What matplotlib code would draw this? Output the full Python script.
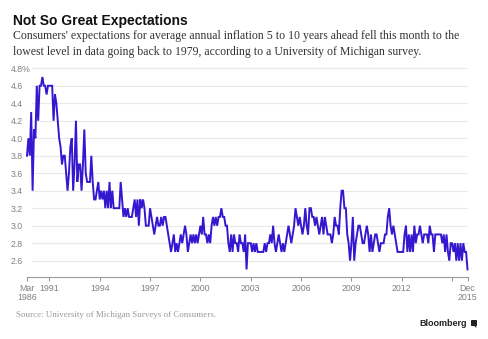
import matplotlib
matplotlib.use("Agg")
import matplotlib.pyplot as plt
import numpy as np
import pandas as pd
from matplotlib.patches import FancyBboxPatch, Polygon

# Survey dates: a few scattered readings before 1990, then monthly from April 1990
sparse_dates = ["1986-03", "1987-02", "1987-08", "1988-02", "1988-08", "1989-02", "1989-08"]
monthly_dates = pd.date_range("1990-04-01", "2015-12-01", freq="MS")
dates = list(pd.to_datetime(sparse_dates)) + list(monthly_dates)

# Median expected inflation 5 to 10 years ahead, percent
expect_1986_1990 = [3.8, 4.0, 3.8, 4.3, 3.4, 4.1, 4.0,
                    4.6, 4.2, 4.6, 4.6, 4.7, 4.6, 4.6, 4.5, 4.6]
expect_1991_1995 = [4.6, 4.6, 4.6, 4.2, 4.5, 4.4, 4.2, 4.0, 3.9, 3.7, 3.8, 3.8,
                    3.6, 3.4, 3.6, 3.9, 4.0, 3.4, 3.7, 4.2, 3.5, 3.7, 3.7, 3.4,
                    3.7, 4.1, 3.6, 3.5, 3.5, 3.5, 3.8, 3.5, 3.3, 3.3, 3.4, 3.5,
                    3.3, 3.4, 3.3, 3.4, 3.2, 3.4, 3.2, 3.5, 3.2, 3.4, 3.2, 3.2,
                    3.2, 3.2, 3.2, 3.5, 3.3, 3.1, 3.2, 3.1, 3.2, 3.1, 3.1, 3.1]
expect_1996_2000 = [3.2, 3.3, 3.1, 3.3, 3.0, 3.3, 3.2, 3.3, 3.2, 3.0, 3.0, 3.0,
                    3.2, 3.1, 3.0, 2.9, 3.0, 3.1, 3.0, 3.0, 3.1, 3.0, 3.1, 3.1,
                    3.0, 2.9, 2.8, 2.7, 2.8, 2.9, 2.7, 2.8, 2.7, 2.8, 2.9, 2.8,
                    2.9, 3.0, 2.9, 2.7, 2.8, 2.9, 2.8, 2.9, 2.8, 2.9, 2.8, 2.9,
                    3.0, 2.9, 3.1, 2.9, 2.9, 2.8, 2.9, 2.8, 3.0, 3.1, 3.0, 3.1]
expect_2001_2005 = [3.0, 3.1, 3.1, 3.2, 3.1, 3.1, 3.0, 3.0, 2.8, 2.7, 2.9, 2.7,
                    2.9, 2.8, 2.8, 2.7, 2.9, 2.8, 2.8, 2.7, 2.9, 2.5, 2.8, 2.8,
                    2.8, 2.7, 2.8, 2.7, 2.8, 2.7, 2.7, 2.7, 2.7, 2.7, 2.8, 2.7,
                    2.8, 2.8, 2.9, 2.8, 3.0, 2.8, 2.7, 2.8, 2.9, 2.8, 2.7, 2.8,
                    2.7, 2.8, 2.9, 3.0, 2.9, 2.8, 2.9, 3.0, 3.2, 3.1, 3.0, 3.1]
expect_2006_2010 = [3.0, 2.9, 3.0, 3.2, 3.0, 2.9, 3.2, 3.2, 3.1, 3.1, 3.0, 3.1,
                    3.0, 2.9, 3.0, 3.1, 2.9, 3.1, 3.0, 2.9, 2.9, 2.9, 2.8, 2.9,
                    3.1, 3.0, 3.0, 2.9, 3.2, 3.4, 3.4, 3.2, 3.2, 2.9, 2.8, 2.6,
                    2.8, 3.1, 2.6, 2.8, 2.9, 3.0, 3.0, 2.9, 2.8, 2.8, 2.9, 3.0,
                    2.9, 2.7, 2.9, 2.7, 2.8, 2.9, 2.9, 2.8, 2.7, 2.8, 2.8, 2.8]
expect_2011_2015 = [2.9, 2.9, 3.1, 3.2, 3.0, 2.9, 3.0, 2.9, 2.8, 2.7, 2.7, 2.7,
                    2.7, 2.7, 2.9, 3.0, 2.7, 2.9, 2.7, 2.9, 2.7, 3.0, 2.8, 2.9,
                    2.9, 3.0, 2.9, 2.8, 2.9, 2.9, 2.9, 2.8, 3.0, 2.9, 2.9, 2.7,
                    2.9, 2.9, 2.9, 2.9, 2.9, 2.8, 2.9, 2.7, 2.9, 2.7, 2.6, 2.8,
                    2.8, 2.7, 2.8, 2.6, 2.8, 2.6, 2.8, 2.6, 2.8, 2.7, 2.7, 2.5]

y_levels = [4.8, 4.6, 4.4, 4.2, 4.0, 3.8, 3.6, 3.4, 3.2, 3.0, 2.8, 2.6]
y_labels = ["4.8%", "4.6", "4.4", "4.2", "4.0", "3.8", "3.6", "3.4", "3.2", "3.0", "2.8", "2.6"]
x_tick_dates = ["1986-03", "1991-01", "1994-01", "1997-01", "2000-01", "2003-01",
                "2006-01", "2009-01", "2012-01", "2015-12"]
x_tick_labels = ["Mar\n1986", "1991", "1994", "1997", "2000", "2003",
                 "2006", "2009", "2012", "Dec\n2015"]
x_minor_dates = ["2015-01"]

values = (expect_1986_1990 + expect_1991_1995 + expect_1996_2000
          + expect_2001_2005 + expect_2006_2010 + expect_2011_2015)
date_index = pd.DatetimeIndex(dates)
positions = np.arange(len(values))


def locate(stamps):
    return [int(date_index.get_loc(pd.Timestamp(s + "-01"))) for s in stamps]


W, H = 488, 339
fig = plt.figure(figsize=(W / 100, H / 100), dpi=100)
fig.patch.set_facecolor("white")

# plot area in pixels
left_px, right_px = 27.0, 467.5
y_top_val, y_bot_val = 4.82, 2.41
top_px, bot_px = 66.5, 277.3
ax = fig.add_axes([left_px / W, 1 - bot_px / H,
                   (right_px - left_px) / W, (bot_px - top_px) / H])
ax.set_xlim(0, len(values) - 1)
ax.set_ylim(y_bot_val, y_top_val)

for lv in y_levels:
    ax.axhline(lv, xmin=0.012, xmax=1.0, color="#e9e9e9", lw=0.8, zorder=0)

ax.plot(positions, values, color="#3418d0", lw=1.4, solid_joinstyle="miter",
        zorder=3, clip_on=False)

for side in ("top", "right", "left"):
    ax.spines[side].set_visible(False)
ax.spines["bottom"].set_color("#9a9a9a")
ax.spines["bottom"].set_linewidth(0.8)

ax.set_yticks(y_levels)
ax.set_yticklabels(y_labels, fontsize=6.3, color="#808080", family="Liberation Sans")
ax.tick_params(axis="y", length=0, pad=11.5)
for lab in ax.get_yticklabels():
    lab.set_horizontalalignment("left")

ax.set_xticks(locate(x_tick_dates))
ax.set_xticklabels(x_tick_labels, fontsize=6.3, color="#808080",
                   family="Liberation Sans", linespacing=1.0)
ax.set_xticks(locate(x_minor_dates), minor=True)
ax.tick_params(axis="x", which="both", length=3, width=0.8, color="#9a9a9a", pad=1.5)

fig.text(13 / W, 1 - 21 / H, "Not So Great Expectations", fontsize=10,
         fontweight="bold", family="Liberation Sans", color="#111111", va="center")
fig.text(13 / W, 1 - 36.5 / H,
         "Consumers' expectations for average annual inflation 5 to 10 years ahead fell this month to the",
         fontsize=8.5, family="Liberation Serif", color="#333333", va="center")
fig.text(13 / W, 1 - 51.5 / H,
         "lowest level in data going back to 1979, according to a University of Michigan survey.",
         fontsize=8.5, family="Liberation Serif", color="#333333", va="center")

fig.text(16 / W, 1 - 315 / H, "Source: University of Michigan Surveys of Consumers.",
         fontsize=6.4, family="Liberation Serif", color="#9a9a9a", va="center")
fig.text(467 / W, 1 - 323 / H, "Bloomberg", fontsize=6.5, fontweight="bold",
         family="Liberation Sans", color="#222222", va="center", ha="right")

# small speech-bubble mark next to the wordmark
bx, by, bw, bh = 471 / W, 1 - 326 / H, 6 / W, 6 / H
fig.patches.append(FancyBboxPatch((bx, by), bw, bh, boxstyle="round,pad=0,rounding_size=0.002",
                                  transform=fig.transFigure, facecolor="#222222",
                                  edgecolor="none"))
fig.patches.append(Polygon([(bx + bw * 0.55, by), (bx + bw * 0.85, by),
                            (bx + bw * 0.9, by - 2 / H)], closed=True,
                           transform=fig.transFigure, facecolor="#222222", edgecolor="none"))

fig.savefig("out.png", dpi=100, facecolor="white")
